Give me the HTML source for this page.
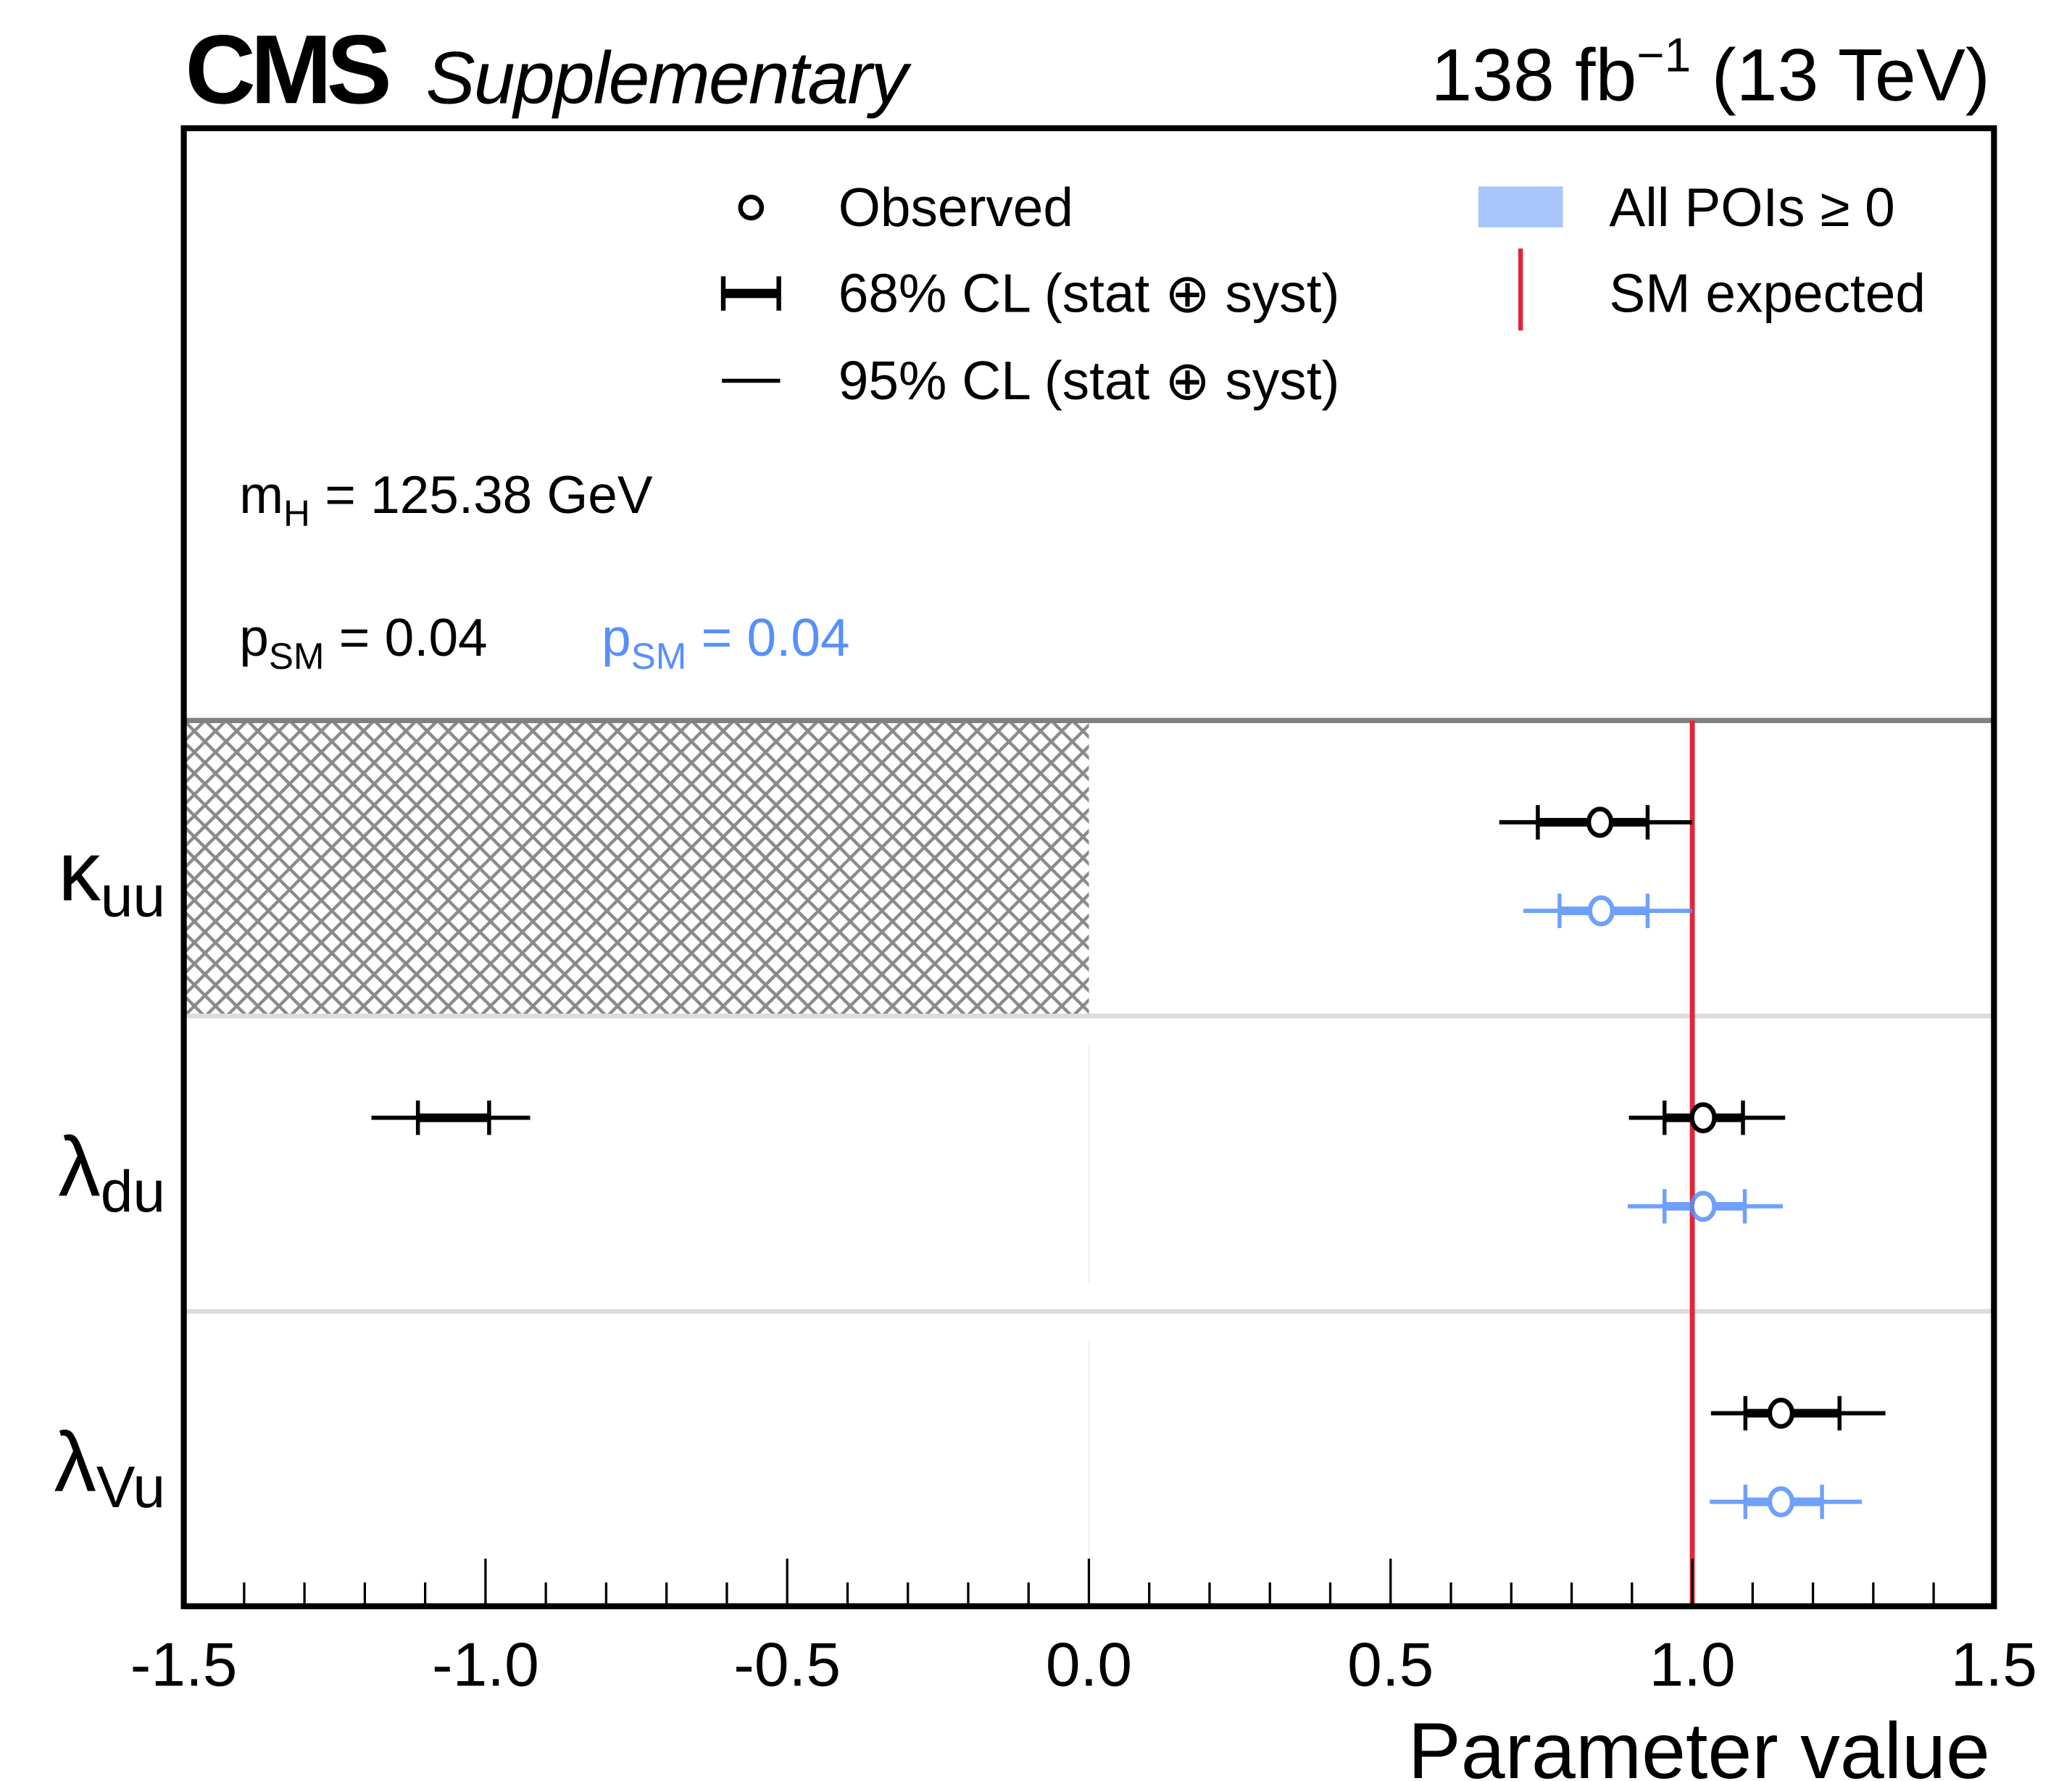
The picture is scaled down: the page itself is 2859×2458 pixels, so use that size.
<!DOCTYPE html>
<html><head><meta charset="utf-8"><style>
html,body{margin:0;padding:0;background:#fff;}
svg{display:block;font-family:"Liberation Sans",sans-serif;}
</style></head><body>
<svg id="chart" width="2859" height="2458" viewBox="0 0 1567 1347.2" preserveAspectRatio="none" xmlns="http://www.w3.org/2000/svg">
<defs>
<pattern id="hatch" width="16" height="16" patternUnits="userSpaceOnUse" x="139" y="545">
<path d="M0,0 L16,16 M16,0 L0,16 M-1,15 L1,17 M15,-1 L17,1 M-1,1 L1,-1 M15,17 L17,15" stroke="#8a8a8a" stroke-width="2.4" fill="none"/>
</pattern>
</defs>
<g>
<text x="140" y="78" font-size="74" font-weight="bold" letter-spacing="-4">CMS</text>
<text x="322" y="78" font-size="56" font-style="italic" letter-spacing="-1">Supplementary</text>
<text x="1505" y="76" font-size="56" text-anchor="end">138 fb<tspan dy="-22" font-size="36">−1</tspan><tspan dy="22"> (13 TeV)</tspan></text>
</g>
<g id="plot"></g>
<g font-size="41">
<circle cx="568" cy="157" r="8" fill="#fff" stroke="#000" stroke-width="3.5"/>
<text x="634" y="171">Observed</text>
<g><line x1="546" y1="222" x2="590" y2="222" stroke="#000" stroke-width="7"/><line x1="547" y1="209" x2="547" y2="235" stroke="#000" stroke-width="3.5"/><line x1="589" y1="209" x2="589" y2="235" stroke="#000" stroke-width="3.5"/></g>
<text x="634" y="236">68% CL (stat ⊕ syst)</text>
<line x1="546" y1="288" x2="590" y2="288" stroke="#000" stroke-width="3"/>
<text x="634" y="302">95% CL (stat ⊕ syst)</text>
<rect x="1118" y="141" width="64" height="31" fill="#a9c6fb"/>
<text x="1217" y="171">All POIs ≥ 0</text>
<line x1="1150" y1="188" x2="1150" y2="250" stroke="#e32636" stroke-width="3.5"/>
<text x="1217" y="236">SM expected</text>
</g>
<g font-size="40">
<text x="181" y="388">m<tspan dy="10" font-size="28">H</tspan><tspan dy="-10"> = 125.38 GeV</tspan></text>
<text x="181" y="496">p<tspan dy="10" font-size="28">SM</tspan><tspan dy="-10"> = 0.04</tspan></text>
<text x="455" y="496" fill="#5790fc">p<tspan dy="10" font-size="28">SM</tspan><tspan dy="-10"> = 0.04</tspan></text>
</g>
</svg>
<script>
const categories = ["κuu", "λdu", "λVu"];
const obsCenter = [0.847, 1.018, 1.147];
const obs68Lo = [0.744, 0.954, 1.088];
const obs68Hi = [0.926, 1.084, 1.244];
const obs95Lo = [0.68, 0.895, 1.031];
const obs95Hi = [1.0, 1.154, 1.320];
const posCenter = [0.849, 1.018, 1.147];
const pos68Lo = [0.78, 0.954, 1.088];
const pos68Hi = [0.926, 1.087, 1.215];
const pos95Lo = [0.72, 0.893, 1.029];
const pos95Hi = [1.0, 1.150, 1.281];
const extraCat = [1];
const extra68Lo = [-1.112];
const extra68Hi = [-0.994];
const extra95Lo = [-1.189];
const extra95Hi = [-0.926];
const xTicks = [-1.5, -1.0, -0.5, 0.0, 0.5, 1.0, 1.5];
const xTickLabels = ["-1.5", "-1.0", "-0.5", "0.0", "0.5", "1.0", "1.5"];
const smValue = 1.0;
const hatchMax = 0.0;

const NS = "http://www.w3.org/2000/svg";
const L = 139, R = 1508, T = 97, B = 1215, Y0 = 545, ROWH = 223.5;
const xMin = -1.5, xMax = 1.5;
function xs(v){ return L + (v - xMin) / (xMax - xMin) * (R - L); }
function rowTop(i){ return Y0 + i * ROWH; }
function yObs(i){ return rowTop(i) + 77; }
function yPos(i){ return rowTop(i) + 144; }
const g = document.getElementById("plot");
function el(tag, attrs){ const e = document.createElementNS(NS, tag); for (const k in attrs) e.setAttribute(k, attrs[k]); g.appendChild(e); return e; }

let h = el("rect", {x: xs(xMin), y: Y0, width: xs(hatchMax) - xs(xMin), height: ROWH, fill: "url(#hatch)"});


for (let i = 1; i < categories.length; i++) {
  const z = el("line", {x1: xs(0), x2: xs(0), y1: rowTop(i) + 22, y2: rowTop(i) + ROWH - 22, stroke: "#eeeeee", "stroke-width": 1});
  
  
}
for (let i = 0; i < categories.length; i++) {
  const s = el("line", {x1: L, x2: R, y1: rowTop(i), y2: rowTop(i), stroke: i === 0 ? "#808080" : "#dcdcdc", "stroke-width": i === 0 ? 4 : 3.5});
  
  
}
const sm = el("line", {x1: xs(smValue), x2: xs(smValue), y1: Y0, y2: B, stroke: "#e32636", "stroke-width": 3.8});



function errorBar(y, lo95, hi95, lo68, hi68, c, color, op, name){
  const grp = document.createElementNS(NS, "g");
  
  
  grp.setAttribute("opacity", op);
  g.appendChild(grp);
  function add(tag, a){ const e = document.createElementNS(NS, tag); for (const k in a) e.setAttribute(k, a[k]); grp.appendChild(e); return e; }
  add("line", {x1: xs(lo95), x2: xs(hi95), y1: y, y2: y, stroke: color, "stroke-width": 3.2});
  add("line", {x1: xs(lo68), x2: xs(hi68), y1: y, y2: y, stroke: color, "stroke-width": 6.5});
  add("line", {x1: xs(lo68), x2: xs(lo68), y1: y - 13, y2: y + 13, stroke: color, "stroke-width": 3});
  add("line", {x1: xs(hi68), x2: xs(hi68), y1: y - 13, y2: y + 13, stroke: color, "stroke-width": 3});
  if (c !== null) add("ellipse", {cx: xs(c), cy: y, rx: 8.5, ry: 10, fill: "#fff", stroke: color, "stroke-width": 3.5});
}
for (let i = 0; i < categories.length; i++) {
  errorBar(yObs(i), obs95Lo[i], obs95Hi[i], obs68Lo[i], obs68Hi[i], obsCenter[i], "#000", 1, "observed-interval-" + i);
  errorBar(yPos(i), pos95Lo[i], pos95Hi[i], pos68Lo[i], pos68Hi[i], posCenter[i], "#5790fc", 0.85, "all-pois-positive-interval-" + i);
}
for (let j = 0; j < extraCat.length; j++) {
  errorBar(yObs(extraCat[j]), extra95Lo[j], extra95Hi[j], extra68Lo[j], extra68Hi[j], null, "#000", 1, "observed-second-interval");
}
const greek = [["κ","uu"],["λ","du"],["λ","Vu"]];
for (let i = 0; i < categories.length; i++) {
  const t = el("text", {x: 125, y: rowTop(i) + 136, "font-size": 64, "text-anchor": "end"});
  
  
  const a = document.createElementNS(NS, "tspan"); a.textContent = greek[i][0]; t.appendChild(a);
  const b = document.createElementNS(NS, "tspan"); b.setAttribute("dy", 12); b.setAttribute("font-size", 44); b.textContent = greek[i][1]; t.appendChild(b);
}
for (let k = 0; k <= 30; k++) {
  const v = xMin + k * 0.1;
  const major = k % 5 === 0;
  const tk = el("line", {x1: xs(v), x2: xs(v), y1: B, y2: B - (major ? 36 : 18), stroke: "#000", "stroke-width": 1.8});
  
  
}
for (let k = 0; k < xTicks.length; k++) {
  const t = el("text", {x: xs(xTicks[k]), y: 1275, "font-size": 47, "text-anchor": "middle"});
  t.textContent = xTickLabels[k];
  
  
}
const fr = el("rect", {x: L, y: T, width: R - L, height: B - T, fill: "none", stroke: "#000", "stroke-width": 4.5});


const xt = el("text", {x: 1505, y: 1345, "font-size": 60, "text-anchor": "end"});
xt.textContent = "Parameter value";


</script>
</body></html>
